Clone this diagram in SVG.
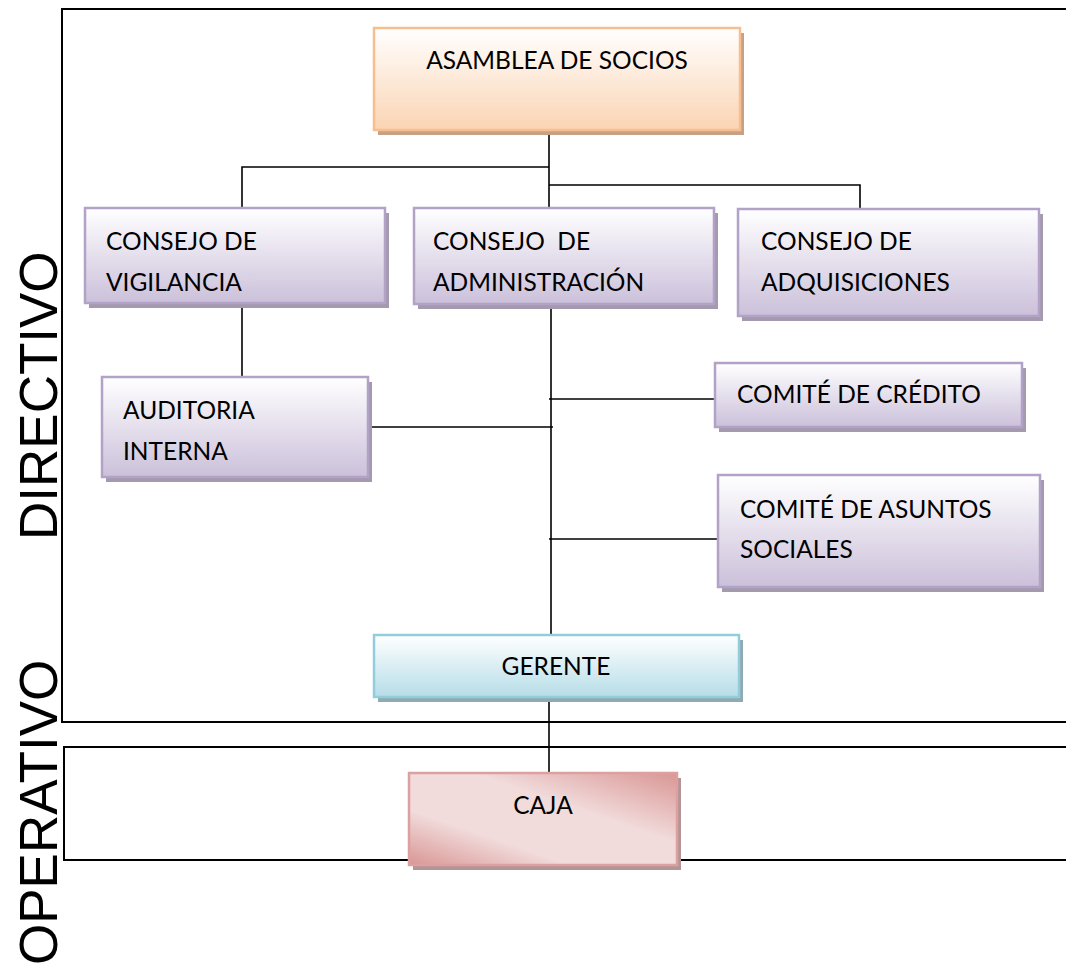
<svg xmlns="http://www.w3.org/2000/svg" width="1066" height="963" viewBox="0 0 1066 963">
<defs>
<linearGradient id="gOrange" x1="0" y1="0" x2="0" y2="1"><stop offset="0" stop-color="#FFFFFF"/><stop offset="1" stop-color="#FBD4B3"/></linearGradient>
<linearGradient id="gPurple" x1="0" y1="0" x2="0" y2="1"><stop offset="0" stop-color="#FFFFFF"/><stop offset="1" stop-color="#CBC0DA"/></linearGradient>
<linearGradient id="gBlue" x1="0" y1="0" x2="0" y2="1"><stop offset="0" stop-color="#FFFFFF"/><stop offset="1" stop-color="#B6DDE8"/></linearGradient>
<linearGradient id="gRed" x1="0" y1="1" x2="1" y2="0"><stop offset="0" stop-color="#D99694"/><stop offset="0.3" stop-color="#F1DBDB"/><stop offset="0.62" stop-color="#F1DBDB"/><stop offset="1" stop-color="#D99694"/></linearGradient>
<style>
.frame{fill:none;stroke:#000;stroke-width:2}
.conn line,.conn path{stroke:#000;stroke-width:1.6;fill:none}
.lbl{font-family:Lato,"Open Sans","Liberation Sans",sans-serif;font-size:24.5px;fill:#000}
.side{font-family:"Liberation Sans",Arial,sans-serif;font-size:53px;fill:#000}
.sh-o{fill:#C6A186}
.sh-p{fill:#A39AAE}
.sh-b{fill:#8FAAB3}
.sh-r{fill:#B39596}
.b-o{fill:url(#gOrange);stroke:#F9BE8F;stroke-width:2.5}
.b-p{fill:url(#gPurple);stroke:#B3A2C7;stroke-width:2.5}
.b-b{fill:url(#gBlue);stroke:#92CDDC;stroke-width:2.5}
.b-r{fill:url(#gRed);stroke:#DDA0A0;stroke-width:2.5}
</style>
</defs>
<rect width="1066" height="963" fill="#FFFFFF"/>
<g id="frames">
<path class="frame" d="M1066,9 H62 V722 H1066"/>
<path class="frame" d="M1066,747 H64 V860 H1066"/>
</g>
<g id="side-labels">
<text class="side" transform="translate(57,540) rotate(-90)">DIRECTIVO</text>
<text class="side" transform="translate(57,965) rotate(-90)">OPERATIVO</text>
</g>
<g id="connectors" class="conn">
<line x1="549" y1="130" x2="549" y2="208"/>
<path d="M242,208 V167 H549"/>
<path d="M549,185 H860 V209"/>
<line x1="242" y1="303" x2="242" y2="377"/>
<line x1="551" y1="304" x2="551" y2="635"/>
<line x1="365" y1="427" x2="553" y2="427"/>
<line x1="549" y1="399" x2="715" y2="399"/>
<line x1="549" y1="539" x2="718" y2="539"/>
<line x1="549" y1="697" x2="549" y2="773"/>
</g>
<g id="asamblea">
<rect class="sh-o" x="378" y="33" width="366" height="102"/>
<rect class="b-o" x="374" y="28" width="366" height="102"/>
<text class="lbl" x="557" y="69" text-anchor="middle">ASAMBLEA DE SOCIOS</text>
</g>
<g id="vigilancia">
<rect class="sh-p" x="89" y="213" width="300" height="95"/>
<rect class="b-p" x="85" y="208" width="300" height="95"/>
<text class="lbl" x="106" y="250">CONSEJO DE</text>
<text class="lbl" x="106" y="291">VIGILANCIA</text>
</g>
<g id="administracion">
<rect class="sh-p" x="418" y="213" width="300" height="96"/>
<rect class="b-p" x="414" y="208" width="300" height="96"/>
<text class="lbl" x="433" y="250" xml:space="preserve">CONSEJO  DE</text>
<text class="lbl" x="433" y="291">ADMINISTRACIÓN</text>
</g>
<g id="adquisiciones">
<rect class="sh-p" x="742" y="214" width="301" height="107"/>
<rect class="b-p" x="738" y="209" width="301" height="107"/>
<text class="lbl" x="761" y="250">CONSEJO DE</text>
<text class="lbl" x="761" y="291">ADQUISICIONES</text>
</g>
<g id="auditoria">
<rect class="sh-p" x="106" y="382" width="266" height="100"/>
<rect class="b-p" x="102" y="377" width="266" height="100"/>
<text class="lbl" x="123" y="419">AUDITORIA</text>
<text class="lbl" x="123" y="460">INTERNA</text>
</g>
<g id="credito">
<rect class="sh-p" x="719" y="368" width="307" height="64"/>
<rect class="b-p" x="715" y="363" width="307" height="64"/>
<text class="lbl" x="737" y="403">COMITÉ DE CRÉDITO</text>
</g>
<g id="sociales">
<rect class="sh-p" x="722" y="480" width="322" height="112"/>
<rect class="b-p" x="718" y="475" width="322" height="112"/>
<text class="lbl" x="740" y="518">COMITÉ DE ASUNTOS</text>
<text class="lbl" x="740" y="558">SOCIALES</text>
</g>
<g id="gerente">
<rect class="sh-b" x="378" y="640" width="365" height="62"/>
<rect class="b-b" x="374" y="635" width="365" height="62"/>
<text class="lbl" x="556" y="675" text-anchor="middle">GERENTE</text>
</g>
<g id="caja">
<rect class="sh-r" x="413" y="778" width="268" height="92"/>
<rect class="b-r" x="409" y="773" width="268" height="92"/>
<text class="lbl" x="543" y="814" text-anchor="middle">CAJA</text>
</g>
</svg>
